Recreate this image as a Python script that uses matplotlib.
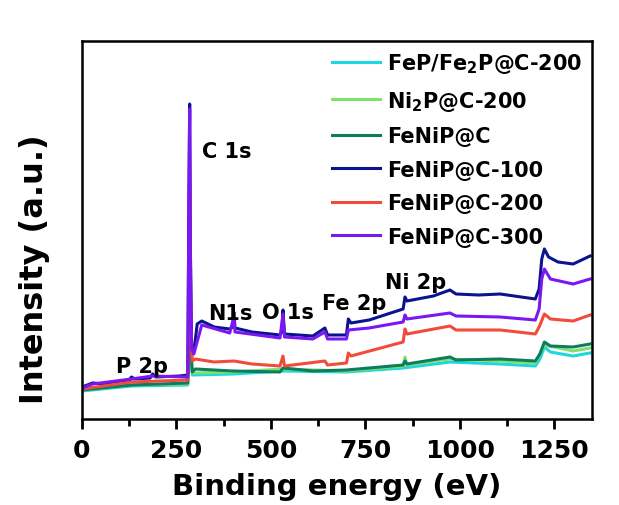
import matplotlib
matplotlib.use("Agg")
import matplotlib.pyplot as plt
from matplotlib.ticker import MultipleLocator

plt.rcParams['font.family'] = ['DejaVu Sans']
plt.rcParams['font.weight'] = 'bold'
plt.rcParams['mathtext.fontset'] = 'dejavusans'

# binding energy (eV) and intensity (a.u.)
e_navy = [0, 28, 60, 125, 131, 140, 180, 187, 195, 258, 280, 283, 285, 287, 290, 296, 305, 317, 350, 391, 399,
          402, 405, 450, 524, 529, 532, 536, 611, 643, 650, 700, 705, 712, 760, 850, 855, 860, 930, 974, 990,
          1050, 1107, 1200, 1210, 1217, 1224, 1235, 1260, 1300, 1345]
i_navy = [32, 36, 35, 39, 42, 40, 41, 45, 42, 43, 44, 220, 315, 170, 75, 67, 95, 98, 92, 90, 92,
          107, 91, 87, 84, 87, 109, 85, 83, 91, 84, 84, 100, 96, 99, 110, 122, 118, 123, 129, 125,
          124, 125, 120, 130, 160, 170, 162, 157, 155, 163]

e_purple = [0, 28, 131, 187, 280, 283, 285, 287, 290, 296, 317, 391, 402, 405, 524, 532, 536, 611, 643, 650,
            700, 705, 760, 850, 855, 860, 974, 990, 1107, 1200, 1210, 1217, 1224, 1240, 1300, 1345]
i_purple = [31, 35, 40, 43, 42, 220, 310, 160, 70, 65, 94, 86, 102, 87, 81, 105, 82, 80, 87, 80,
            80, 89, 91, 97, 104, 100, 106, 103, 102, 99, 110, 140, 150, 140, 135, 140]

e_red = [0, 131, 280, 283, 285, 288, 292, 300, 350, 402, 450, 524, 532, 536, 643, 650, 700, 705, 712,
         850, 855, 860, 974, 990, 1107, 1200, 1210, 1224, 1240, 1300, 1345]
i_red = [30, 37, 39, 120, 225, 90, 58, 60, 57, 58, 55, 53, 63, 53, 58, 54, 56, 66, 63,
         77, 90, 85, 93, 89, 89, 85, 92, 105, 100, 98, 104]

e_teal = [0, 131, 280, 283, 285, 288, 292, 300, 400, 524, 532, 611, 700, 850, 855, 860, 974, 990, 1107,
          1200, 1212, 1224, 1240, 1300, 1345]
i_teal = [29, 34, 36, 100, 180, 70, 47, 50, 48, 47, 51, 48, 49, 54, 58, 55, 62, 59, 60,
          58, 65, 77, 73, 72, 75]

e_green = [0, 131, 280, 283, 285, 288, 292, 400, 532, 700, 850, 855, 860, 974, 1107, 1200, 1224, 1300, 1345]
i_green = [29, 34, 35, 90, 160, 65, 46, 47, 50, 48, 53, 62, 54, 60, 58, 56, 74, 68, 71]

e_cyan = [0, 131, 280, 283, 285, 288, 292, 400, 532, 700, 850, 974, 1107, 1200, 1212, 1224, 1240, 1300, 1345]
i_cyan = [28, 33, 34, 80, 140, 60, 44, 45, 48, 47, 51, 57, 55, 53, 60, 72, 67, 63, 66]

labels = ['FeP/Fe$_\\mathbf{2}$P@C-200', 'Ni$_\\mathbf{2}$P@C-200', 'FeNiP@C',
          'FeNiP@C-100', 'FeNiP@C-200', 'FeNiP@C-300']
colors = ['#1ed6df', '#80e06c', '#0e7d5e', '#0b148e', '#f04b3b', '#7b17f0']

peak_names = ['P 2p', 'C 1s', 'N1s', 'O 1s', 'Fe 2p', 'Ni 2p']
peak_x = [90, 317, 335, 476, 635, 802]
peak_y = [53, 268, 106, 107, 116, 137]

fig = plt.figure(figsize=(6.19, 5.06), dpi=100)
ax = fig.add_axes([82 / 619, 86 / 506, 510 / 619, 378 / 506])

series = [(e_cyan, i_cyan), (e_green, i_green), (e_teal, i_teal),
          (e_navy, i_navy), (e_red, i_red), (e_purple, i_purple)]
for (e, i), lab, c in zip(series, labels, colors):
    ax.plot(e, i, color=c, lw=2.2, label=lab)

for name, x, y in zip(peak_names, peak_x, peak_y):
    ax.text(x, y, name, fontsize=15, fontweight='bold', va='center', ha='left')

ax.set_xlim(0, 1350)
ax.set_ylim(0, 378)
ax.set_yticks([])
ax.xaxis.set_major_locator(MultipleLocator(250))
ax.xaxis.set_minor_locator(MultipleLocator(125))
ax.tick_params(axis='x', which='major', direction='out', length=7, width=2, labelsize=18, pad=7)
ax.tick_params(axis='x', which='minor', direction='out', length=5, width=2)
for s in ax.spines.values():
    s.set_linewidth(1.8)

ax.set_xlabel('Binding energy (eV)', fontsize=21, fontweight='bold', labelpad=7)
ax.set_ylabel('Intensity (a.u.)', fontsize=23, fontweight='bold')
ax.yaxis.set_label_coords(-0.062, 0.40)

ax.legend(loc='upper left', bbox_to_anchor=(332 / 619, 1 - 52 / 506), bbox_transform=fig.transFigure,
          frameon=False, fontsize=15, handlelength=2.3, handletextpad=0.35, labelspacing=0.65,
          borderpad=0, borderaxespad=0)

fig.savefig('out.png', dpi=100)
